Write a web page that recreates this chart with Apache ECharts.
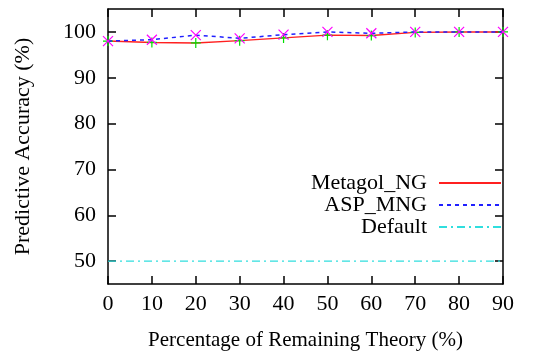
<!DOCTYPE html>
<html>
<head>
<meta charset="utf-8">
<script src="https://cdn.jsdelivr.net/npm/echarts@6/dist/echarts.min.js"></script>
<style>
  html, body { margin: 0; padding: 0; background: #fff; }
  #chart { width: 540px; height: 352px; }
</style>
</head>
<body>
<div id="chart"></div>
<script>
// data
const xValues = [0, 10, 20, 30, 40, 50, 60, 70, 80, 90];
const metagolNG = [98.0, 97.7, 97.6, 98.1, 98.7, 99.3, 99.2, 99.9, 100, 100];
const aspMNG = [98.0, 98.3, 99.3, 98.6, 99.4, 100, 99.7, 100, 100, 100];
const defaultAcc = [50, 50, 50, 50, 50, 50, 50, 50, 50, 50];
const yTicks = [50, 60, 70, 80, 90, 100];

const FONT = "Liberation Serif";
const FS = 22;
const pairs = ys => xValues.map((x, i) => [x, ys[i]]);

const plusPath = "path://M0,5L10,5M5,0L5,10";
const crossPath = "path://M0,0L10,10M10,0L0,10";

const chart = echarts.init(document.getElementById("chart"), null, { renderer: "canvas" });

const legendBase = {
  right: 38, orient: "vertical", align: "right", padding: 0,
  itemWidth: 62, itemHeight: 10, itemGap: 4,
  textStyle: { fontFamily: FONT, fontSize: FS, color: "#000", padding: [0, 7, 0, 0] },
  selectedMode: false,
};

// gnuplot style: ticks point inwards, mirrored on top/right
const tickStyle = { show: true, inside: true, length: 8, lineStyle: { color: "#000", width: 1.5 } };
const axLine = { show: true, onZero: false, lineStyle: { color: "#000", width: 1.5 } };

chart.setOption({
  animation: false,
  grid: { left: 108, right: 37, top: 9, bottom: 68, outerBoundsMode: "none" },
  legend: [
    { ...legendBase, top: 172, data: [{ name: "Metagol_NG", itemStyle: { opacity: 0 } }] },
    { ...legendBase, top: 194, data: [{ name: "ASP_MNG", itemStyle: { opacity: 0 } }] },
    { ...legendBase, top: 216, data: [{ name: "Default", itemStyle: { opacity: 0 } }] },
  ],
  xAxis: [{
    type: "value", min: 0, max: 90, interval: 10,
    name: "Percentage of Remaining Theory (%)",
    nameLocation: "middle", nameGap: 46,
    nameTextStyle: { fontFamily: FONT, fontSize: 21, color: "#000" },
    axisLine: axLine,
    axisTick: tickStyle,
    axisLabel: { fontFamily: FONT, fontSize: FS, color: "#000", margin: 9 },
    splitLine: { show: false },
  }, {
    type: "value", min: 0, max: 90, interval: 10, position: "top",
    axisLine: axLine,
    axisTick: tickStyle,
    axisLabel: { show: false },
    splitLine: { show: false },
  }],
  yAxis: [{
    type: "value", min: 45, max: 105,
    name: "Predictive Accuracy (%)",
    nameLocation: "middle", nameGap: 74,
    nameTextStyle: { fontFamily: FONT, fontSize: FS, color: "#000" },
    axisLine: axLine,
    axisTick: { ...tickStyle, customValues: yTicks },
    axisLabel: { fontFamily: FONT, fontSize: FS, color: "#000", margin: 12, customValues: yTicks },
    splitLine: { show: false },
  }, {
    type: "value", min: 45, max: 105, position: "right",
    axisLine: axLine,
    axisTick: { ...tickStyle, customValues: yTicks },
    axisLabel: { show: false },
    splitLine: { show: false },
  }],
  series: [
    {
      name: "Metagol_NG", type: "line", data: pairs(metagolNG),
      lineStyle: { color: "#ff2020", width: 1.5 },
      symbol: plusPath, symbolSize: 10,
      itemStyle: { color: "transparent", borderColor: "#00e000", borderWidth: 1.2 },
      z: 3,
    },
    {
      name: "ASP_MNG", type: "line", data: pairs(aspMNG),
      lineStyle: { color: "#2020ff", width: 1.5, type: [4, 4] },
      symbol: crossPath, symbolSize: 10,
      itemStyle: { color: "transparent", borderColor: "#ff00ff", borderWidth: 1.2 },
      z: 4,
    },
    {
      name: "Default", type: "line", data: pairs(defaultAcc),
      lineStyle: { color: "#30dede", width: 1.2, type: [8, 4, 2, 4] },
      symbol: "none",
      itemStyle: { color: "#30dede" },
      z: 2,
    },
  ],
});
</script>
</body>
</html>
